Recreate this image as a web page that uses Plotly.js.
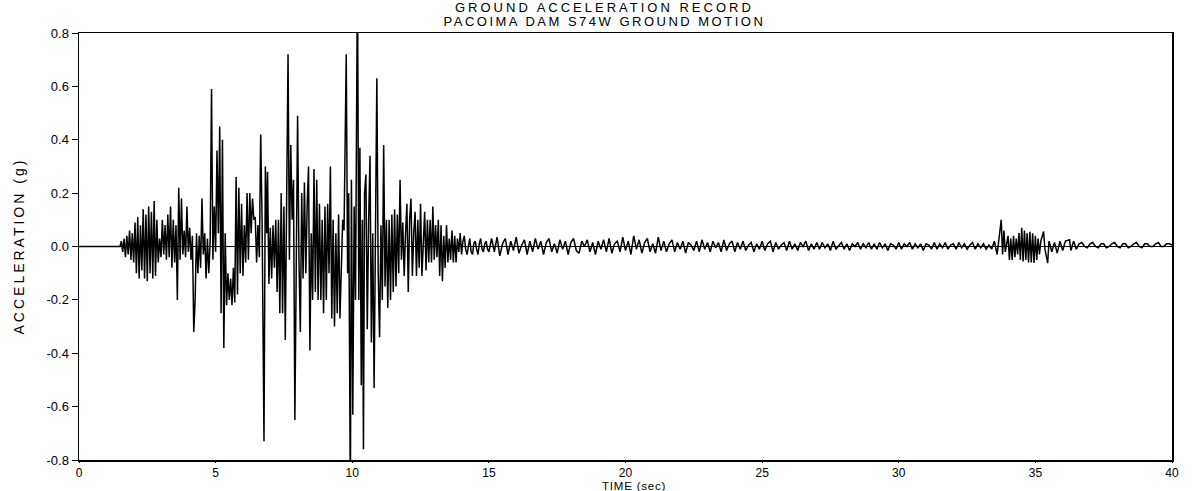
<!DOCTYPE html>
<html>
<head>
<meta charset="utf-8">
<script src="https://cdn.plot.ly/plotly-3.0.1.min.js"></script>
<style>
html,body{margin:0;padding:0;background:#fff;}
#chart{width:1194px;height:491px;}
</style>
</head>
<body>
<div id="chart"></div>
<script>
// Ground acceleration record: [time (s), acceleration (g)]
var preEvent = [
  [0, 0], [1.5, 0], [1.55, 0.02], [1.6, -0.02], [1.65, 0.03], [1.7, -0.04], [1.75, 0.04], [1.8, -0.03],
  [1.85, 0.06], [1.9, -0.05], [1.95, 0.05], [2.0, -0.06], [2.05, 0.09], [2.1, -0.1], [2.15, 0.11],
  [2.2, -0.12], [2.25, 0.08], [2.3, -0.09], [2.35, 0.14], [2.4, -0.12], [2.45, 0.12], [2.5, -0.13],
  [2.55, 0.15], [2.6, -0.1], [2.65, 0.13], [2.7, -0.12], [2.75, 0.17], [2.8, -0.11], [2.85, 0.1],
  [2.9, -0.06], [2.95, 0.03], [3.0, -0.04], [3.05, 0.1], [3.1, -0.03], [3.15, 0.08], [3.2, -0.05],
  [3.25, 0.12], [3.3, -0.04], [3.35, 0.15], [3.4, -0.08], [3.45, 0.1], [3.5, -0.06], [3.55, 0.08],
  [3.6, -0.2], [3.65, 0.22], [3.7, -0.05], [3.75, 0.18], [3.8, -0.03], [3.85, 0.06], [3.9, -0.04],
  [3.95, 0.15], [4.0, -0.02], [4.05, 0.07], [4.1, -0.05], [4.15, 0.04], [4.2, -0.32], [4.25, -0.2],
  [4.3, 0.05], [4.35, -0.1], [4.4, 0.04], [4.45, -0.08], [4.5, 0.18], [4.55, -0.03], [4.6, 0.05],
  [4.65, -0.12], [4.7, 0.03], [4.75, -0.1], [4.8, 0.02]
];
var strongMotion = [
  [4.85, 0.59], [4.9, -0.05], [4.95, 0.15], [5.0, -0.02], [5.05, 0.36], [5.1, 0.05], [5.15, 0.45],
  [5.2, -0.25], [5.25, 0.4], [5.3, -0.38], [5.35, 0.05], [5.4, -0.22], [5.45, -0.1], [5.5, -0.2],
  [5.55, -0.12], [5.6, -0.22], [5.65, -0.08], [5.7, -0.21], [5.75, 0.26], [5.8, -0.18], [5.85, 0.22],
  [5.9, -0.1], [5.95, 0.16], [6.0, -0.11], [6.05, 0.08], [6.1, -0.06], [6.15, 0.2], [6.2, -0.05],
  [6.25, 0.2], [6.3, 0.05], [6.35, 0.18], [6.4, 0.1], [6.45, 0.11], [6.5, -0.06], [6.55, 0.08],
  [6.6, -0.04], [6.65, 0.42], [6.7, 0.1], [6.77, -0.73], [6.82, 0.3], [6.87, 0.05], [6.9, 0.28],
  [6.95, -0.14], [7.0, 0.07], [7.05, -0.12], [7.1, 0.08], [7.15, -0.08], [7.2, 0.1], [7.25, -0.17],
  [7.3, 0.1], [7.35, -0.25], [7.4, 0.2], [7.45, -0.25], [7.5, 0.15], [7.55, -0.35], [7.6, 0.3],
  [7.65, 0.72], [7.7, -0.05], [7.75, 0.38], [7.8, 0.1], [7.85, 0.25], [7.9, -0.65], [7.95, 0.1],
  [8.0, 0.49], [8.05, -0.05], [8.1, -0.32], [8.15, 0.2], [8.2, -0.12], [8.25, 0.24], [8.3, -0.1],
  [8.35, 0.15], [8.4, 0.3], [8.45, -0.39], [8.5, 0.05], [8.55, -0.2], [8.6, 0.29], [8.65, -0.17],
  [8.7, 0.25], [8.75, -0.2], [8.8, 0.16], [8.85, -0.2], [8.9, 0.1], [8.95, -0.25], [9.0, 0.15],
  [9.05, -0.2], [9.1, 0.16], [9.15, -0.1], [9.2, 0.3], [9.25, -0.27], [9.3, 0.1], [9.35, -0.3],
  [9.4, 0.05], [9.45, -0.25], [9.5, 0.12], [9.55, -0.27], [9.6, -0.05], [9.65, 0.1], [9.7, 0.06],
  [9.78, 0.72], [9.83, -0.1], [9.87, 0.2], [9.93, -0.95], [9.97, 0.25], [10.02, -0.63], [10.07, 0.15],
  [10.12, -0.2], [10.19, 1.05], [10.24, -0.2], [10.28, 0.37], [10.33, -0.52], [10.37, 0.1],
  [10.41, -0.76], [10.45, 0.2], [10.5, 0.27], [10.55, -0.31], [10.6, 0.1], [10.65, 0.34],
  [10.7, -0.36], [10.75, 0.05], [10.8, -0.53], [10.85, 0.1], [10.9, 0.63], [10.95, -0.1],
  [11.0, -0.34], [11.05, 0.08], [11.1, -0.2], [11.15, 0.38], [11.2, -0.15], [11.25, 0.1],
  [11.3, -0.23], [11.35, 0.1], [11.4, -0.2], [11.45, 0.12], [11.5, -0.17], [11.55, 0.14],
  [11.6, -0.15], [11.65, 0.12], [11.7, -0.1], [11.75, 0.25], [11.8, -0.05], [11.85, 0.09],
  [11.9, -0.11], [11.95, 0.05], [12.0, 0.16], [12.05, -0.17], [12.1, 0.1], [12.15, 0.18],
  [12.2, -0.11], [12.25, 0.05], [12.3, 0.13], [12.35, -0.11], [12.4, 0.1], [12.45, -0.08],
  [12.5, 0.16], [12.55, -0.11], [12.6, 0.05], [12.65, 0.13], [12.7, -0.09], [12.75, 0.1],
  [12.8, -0.06], [12.85, 0.1], [12.9, -0.06], [12.95, 0.15], [13.0, -0.05], [13.05, 0.08],
  [13.1, -0.04], [13.15, 0.1], [13.2, -0.11], [13.25, 0.08], [13.3, -0.13], [13.35, 0.04],
  [13.4, -0.08], [13.45, 0.08], [13.5, -0.06], [13.55, 0.03], [13.6, -0.05], [13.65, 0.06],
  [13.7, -0.06], [13.75, 0.04], [13.8, -0.06], [13.85, 0.03], [13.9, -0.02], [13.95, 0.05],
  [14.0, -0.03], [14.05, 0.02], [14.1, 0.04], [14.15, -0.01], [14.2, -0.03], [14.25, 0.01],
  [14.3, 0.03], [14.35, -0.02], [14.4, -0.03], [14.45, 0.01], [14.5, 0.02], [14.55, -0.01],
  [14.6, -0.03], [14.65, 0.01], [14.7, 0.03], [14.75, -0.01], [14.8, -0.02], [14.85, 0.01],
  [14.9, 0.02], [14.95, -0.01], [15.0, -0.02]
];
// Coda: one value every 0.1 s from 15.1 s to 33.3 s
var codaStart = 15.1, codaStep = 0.1;
var codaAccel = [
  0.03, -0.02, 0.035, -0.035, 0.01, 0.03, -0.03, 0.02, -0.015, 0.035,
  -0.025, 0.005, 0.025, -0.03, 0.02, -0.02, 0.03, -0.01, 0.02, -0.03,
  0.015, 0.03, -0.02, 0.01, -0.025, 0.025, -0.01, 0.02, -0.03, 0.015,
  0.03, -0.015, -0.025, 0.02, 0.0, 0.025, -0.02, 0.015, -0.03, 0.02,
  -0.01, 0.025, -0.02, 0.03, -0.025, 0.01, 0.02, -0.02, 0.035, -0.015,
  0.02, -0.03, 0.04, -0.01, 0.025, -0.025, 0.015, 0.03, -0.02, 0.01,
  -0.025, 0.035, -0.015, 0.02, -0.02, 0.01, 0.025, -0.02, 0.015, -0.01,
  0.02, -0.025, 0.015, 0.005, -0.015, 0.02, -0.02, 0.025, -0.01, 0.015,
  -0.02, 0.02, -0.005, 0.015, -0.02, 0.025, -0.015, 0.01, 0.02, -0.02,
  0.015, -0.01, 0.02, -0.015, 0.005, 0.015, -0.02, 0.01, -0.01, 0.02,
  -0.015, 0.01, 0.02, -0.02, 0.015, -0.01, 0.005, 0.015, -0.015, 0.02,
  -0.01, 0.01, -0.015, 0.015, 0.0, 0.02, -0.015, 0.01, -0.01, 0.015,
  -0.01, 0.015, -0.005, 0.01, -0.015, 0.02, -0.01, 0.005, 0.015, -0.01,
  0.01, -0.015, 0.01, 0.0, 0.015, -0.01, 0.01, -0.005, 0.015, -0.01,
  0.01, -0.01, 0.015, -0.005, 0.01, -0.015, 0.01, 0.005, -0.01, 0.015,
  -0.01, 0.01, 0.0, 0.015, -0.01, 0.01, -0.005, 0.01, -0.015, 0.01,
  0.005, -0.01, 0.015, -0.01, 0.01, -0.005, 0.015, -0.01, 0.005, 0.01,
  -0.01, 0.015, -0.005, 0.01, -0.01, 0.005, 0.015, -0.01, 0.01, -0.005,
  0.01, -0.01, 0.005
];
var aftershock = [
  [33.4, -0.01], [33.5, 0.02], [33.6, -0.03], [33.65, 0.02], [33.75, 0.1], [33.8, -0.03], [33.85, 0.06],
  [33.9, -0.02], [34.0, 0.04], [34.05, -0.05], [34.1, 0.03], [34.15, -0.05], [34.2, 0.04], [34.25, -0.04],
  [34.3, 0.03], [34.35, -0.03], [34.4, 0.05], [34.45, -0.05], [34.5, 0.07], [34.55, -0.056], [34.6, 0.06],
  [34.65, -0.05], [34.7, 0.05], [34.75, -0.06], [34.8, 0.055], [34.85, -0.06], [34.9, 0.05], [34.95, -0.062],
  [35.0, 0.04], [35.05, -0.05], [35.1, 0.03], [35.15, -0.03], [35.2, 0.02], [35.3, 0.056], [35.35, -0.01],
  [35.45, -0.062], [35.5, 0.02], [35.6, -0.02], [35.7, 0.015], [35.8, -0.025], [35.9, 0.02], [36.0, -0.015],
  [36.1, 0.02], [36.25, 0.025], [36.3, -0.015], [36.4, 0.02], [36.5, -0.01], [36.6, 0.01], [36.7, 0.015],
  [36.8, 0.0], [36.9, -0.005], [37.0, 0.01], [37.1, 0.015], [37.2, 0.0], [37.3, -0.005], [37.4, 0.01],
  [37.5, 0.01], [37.6, -0.005], [37.7, 0.0], [37.8, 0.01], [37.9, 0.015], [38.0, 0.0], [38.1, -0.005],
  [38.2, 0.01], [38.3, 0.01], [38.4, -0.005], [38.5, 0.0], [38.6, 0.01], [38.7, 0.015], [38.8, 0.0],
  [38.9, -0.005], [39.0, 0.01], [39.1, 0.01], [39.2, 0.0], [39.3, 0.0], [39.4, 0.01], [39.5, 0.015],
  [39.6, 0.0], [39.7, 0.0], [39.8, 0.01], [39.9, 0.01], [40.0, 0.005]
];
var xTicks = [0, 5, 10, 15, 20, 25, 30, 35, 40];
var yTicks = [0.8, 0.6, 0.4, 0.2, 0.0, -0.2, -0.4, -0.6, -0.8];
var titleLines = ['GROUND ACCELERATION RECORD', 'PACOIMA DAM S74W GROUND MOTION'];
var xTitle = 'TIME (sec)';
var yTitle = 'ACCELERATION (g)';

var coda = codaAccel.map(function (a, i) { return [+(codaStart + i * codaStep).toFixed(2), a]; });
var record = preEvent.concat(strongMotion, coda, aftershock);
var time = record.map(function (p) { return p[0]; });
var accel = record.map(function (p) { return p[1]; });

var FONT = '"Liberation Sans", Arial, Helvetica, sans-serif';
var trace = {
  x: time, y: accel, type: 'scatter', mode: 'lines',
  line: { color: '#000', width: 1.5 }, hoverinfo: 'x+y'
};
var layout = {
  width: 1194, height: 491,
  margin: { l: 79, r: 22, t: 33, b: 31 },
  paper_bgcolor: '#fff', plot_bgcolor: '#fff',
  showlegend: false,
  font: { family: FONT, size: 13, color: '#000' },
  xaxis: {
    range: [0, 40], tickvals: xTicks, ticktext: xTicks.map(String),
    showgrid: false, zeroline: false,
    showline: true, linecolor: '#000', linewidth: 1.5, mirror: true,
    ticks: 'outside', ticklen: 1, tickcolor: '#000', tickwidth: 1,
    tickfont: { family: FONT, size: 12, color: '#000' },
    automargin: false
  },
  yaxis: {
    range: [-0.8, 0.8], tickvals: yTicks, ticktext: yTicks.map(function (v) { return v.toFixed(1); }),
    showgrid: false, zeroline: true, zerolinecolor: '#000', zerolinewidth: 1,
    showline: true, linecolor: '#000', linewidth: 1.5, mirror: true,
    ticks: 'outside', ticklen: 6, tickcolor: '#000', tickwidth: 1,
    tickfont: { family: FONT, size: 13, color: '#000' },
    automargin: false
  },
  annotations: [
    { text: titleLines[0], xref: 'paper', yref: 'paper', x: 0.481, y: 1.0597, xanchor: 'center', yanchor: 'middle',
      showarrow: false, font: { family: FONT, size: 13, color: '#000' } },
    { text: titleLines[1], xref: 'paper', yref: 'paper', x: 0.481, y: 1.0281, xanchor: 'center', yanchor: 'middle',
      showarrow: false, font: { family: FONT, size: 13, color: '#000' } },
    { text: xTitle, xref: 'paper', yref: 'paper', x: 0.508, y: -0.0620, xanchor: 'center', yanchor: 'middle',
      showarrow: false, font: { family: FONT, size: 11.5, color: '#000' } },
    { text: yTitle, xref: 'paper', yref: 'paper', x: -0.0558, y: 0.5, xanchor: 'center', yanchor: 'middle',
      textangle: -90, showarrow: false, font: { family: FONT, size: 14, color: '#000' } }
  ]
};
Plotly.newPlot('chart', [trace], layout, { displayModeBar: false, staticPlot: true }).then(function () {
  var texts = document.querySelectorAll('#chart .annotation-text');
  var spacing = ['3px', '2.5px', '0.8px', '3px'];
  texts.forEach(function (t, i) { t.style.letterSpacing = spacing[i] || '0px'; });
});
</script>
</body>
</html>
